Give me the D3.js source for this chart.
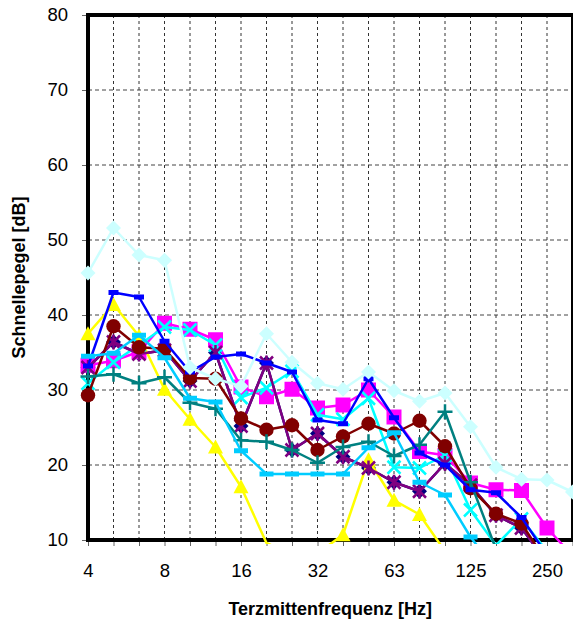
<!DOCTYPE html>
<html><head><meta charset="utf-8">
<script src="https://cdn.jsdelivr.net/npm/d3@7"></script>
<style>body{margin:0;background:#fff}svg{display:block;font-family:"Liberation Sans",Arial,sans-serif}</style>
</head><body>
<svg id="c" width="573" height="625"></svg>
<script>
const categories = ["4","5","6.3","8","10","12.5","16","20","25","31.5","40","50","63","80","100","125","160","200","250","315"];
const xTickLabels = ["4","","","8","","","16","","","32","","","63","","","125","","","250",""];
const yTicks = [10,20,30,40,50,60,70,80];

const navyValues     = [33, 36.4, 34.8, 35.3, 31.2, 35, 25.2, 33.6, 22, 24.2, 21.1, 19.6, 17.7, 16.5, 20.2, 17.3, 13.3, 11.6, 7, 5];
const magentaValues  = [33.3, 33.9, 35.1, 38.9, 38.1, 36.7, 30.4, 29.1, 30.1, 27.6, 28, 30, 26.4, 21.8, 21.3, 17.6, 16.7, 16.6, 11.6, 7.9];
const yellowValues   = [37.5, 41.4, 37.2, 30.1, 26.1, 22.4, 17.1, 9.6, 8, 8.2, 10.7, 20.7, 15.3, 13.4, 8.5, 5, 5, 5, 5, 5];
const cyanValues     = [30.9, 33.7, 36, 38.4, 38, 36, 29, 30.3, 32.5, 26.7, 26.1, 28.9, 19.7, 19.6, 21.3, 14, 9.3, 12.8, 8.5, 5];
const purpleValues   = [33, 36.4, 34.8, 35.3, 31.2, 35, 25.2, 33.6, 22, 24.2, 21.1, 19.6, 17.7, 16.5, 20.2, 17.3, 13.3, 11.6, 7, 5];
const darkRedValues  = [29.3, 38.5, 35.7, 35.5, 31.6, 31.5, 26.2, 24.7, 25.3, 22, 23.8, 25.5, 24.2, 25.9, 22.5, 16.9, 13.5, 12.2, 7, 5];
const tealValues     = [31.8, 32.1, 30.9, 31.7, 28.3, 27.5, 23.3, 23.1, 22, 20.3, 22.4, 23.1, 21.2, 22.7, 27.1, 17.7, 8.8, 5, 5, 5];
const blueValues     = [33.2, 43, 42.4, 36.5, 32.4, 34.4, 34.8, 33.6, 32.4, 26, 25.5, 31.5, 26.3, 21.6, 20, 16.7, 16.3, 13, 8, 5];
const skyValues      = [34.5, 34.9, 37.3, 34.3, 28.9, 28.4, 21.9, 18.8, 18.8, 18.8, 18.8, 22.3, 24.3, 17.7, 16, 10.4, 6, 5, 5, 5];
const lightCyanValues= [45.6, 51.6, 48, 47.3, 33, 31.5, 30.5, 37.5, 33.7, 30.9, 30.1, 32.4, 29.9, 28.5, 29.6, 25.1, 19.7, 18.1, 18, 16.4];

const series = [
  {values: navyValues, color: "#000080", marker: "diamond"},
  {values: magentaValues, color: "#FF00FF", marker: "square"},
  {values: yellowValues, color: "#FFFF00", marker: "triangle"},
  {values: cyanValues, color: "#00FFFF", marker: "x"},
  {values: purpleValues, color: "#800080", marker: "star"},
  {values: darkRedValues, color: "#800000", marker: "circle"},
  {values: tealValues, color: "#008080", marker: "plus"},
  {values: blueValues, color: "#0000FF", marker: "dash"},
  {values: skyValues, color: "#00CCFF", marker: "longdash"},
  {values: lightCyanValues, color: "#CCFFFF", marker: "diamond"}
];

const L = 88, R = 572.5, T = 15, B = 540;
const svg = d3.select("#c");
const x = d3.scalePoint().domain(categories).range([L, R]);
const y = d3.scaleLinear().domain([10, 80]).range([B, T]);

svg.append("defs").append("clipPath").attr("id","clip")
  .append("rect").attr("x", L).attr("y", T).attr("width", R - L + 2).attr("height", B - T + 4);

// grid
const grid = svg.append("g");
grid.selectAll("line.h").data(yTicks.filter(v => v > 10 && v < 80)).join("line")
  .attr("x1", L).attr("x2", R).attr("y1", d => y(d)).attr("y2", d => y(d))
  .attr("stroke", "#444").attr("stroke-width", 1).attr("stroke-dasharray", "4,3");
grid.selectAll("line.v").data(categories.slice(1)).join("line")
  .attr("x1", d => x(d)).attr("x2", d => x(d)).attr("y1", T).attr("y2", B)
  .attr("stroke", "#333").attr("stroke-width", 1).attr("stroke-dasharray", "3,3");

// axes
const yAxis = d3.axisLeft(y).tickValues(yTicks).tickSize(6).tickPadding(14);
const gy = svg.append("g").attr("transform", `translate(${L},0)`).call(yAxis);
gy.select(".domain").remove();
gy.selectAll(".tick line").attr("stroke", "#666");
gy.selectAll("text").attr("font-size", "18.5px").attr("fill", "#000");

const xAxis = d3.axisBottom(x).tickFormat((d, i) => xTickLabels[i]).tickSize(6).tickPadding(18);
const gx = svg.append("g").attr("transform", `translate(0,${B})`).call(xAxis);
gx.select(".domain").remove();
gx.selectAll(".tick line").attr("stroke", "#666");
gx.selectAll("text").attr("font-size", "18.5px").attr("fill", "#000");

// frame
svg.append("line").attr("x1", L).attr("x2", L).attr("y1", T - 2).attr("y2", B + 2).attr("stroke", "#000").attr("stroke-width", 4);
svg.append("line").attr("x1", L - 2).attr("x2", 573).attr("y1", B).attr("y2", B).attr("stroke", "#000").attr("stroke-width", 4);
svg.append("line").attr("x1", L - 2).attr("x2", 573).attr("y1", T).attr("y2", T).attr("stroke", "#000").attr("stroke-width", 4);
svg.append("line").attr("x1", 572).attr("x2", 572).attr("y1", T).attr("y2", B).attr("stroke", "#000").attr("stroke-width", 2);

// series
const line = d3.line().x((d, i) => x(categories[i])).y(d => y(d));
const S = 6.5;
const markerPath = {
  diamond: `M0,${-S-1}L${S+1},0L0,${S+1}L${-S-1},0Z`,
  square: `M-7.5,-7.5H7.5V7.5H-7.5Z`,
  triangle: `M0,${-S-1}L${S+1},${S}L${-S-1},${S}Z`,
  x: `M${-S},${-S}L${S},${S}M${-S},${S}L${S},${-S}`,
  star: `M${-S},${-S}L${S},${S}M${-S},${S}L${S},${-S}M0,${-S-1}V${S+1}`,
  plus: `M${-S-1},0H${S+1}M0,${-S-1}V${S+1}`,
  dash: `M-5,-2.5H5V2.5H-5Z`,
  longdash: `M-7,-2.5H7V2.5H-7Z`
};
const stroked = {x: true, star: true, plus: true};
series.forEach(s => {
  const grp = svg.append("g");
  grp.append("path").datum(s.values).attr("d", line).attr("clip-path", "url(#clip)")
    .attr("fill", "none").attr("stroke", s.color).attr("stroke-width", 2.5).attr("stroke-linejoin", "round");
  s.values.forEach((v, i) => {
    if (v < 10) return;
    const px = x(categories[i]), py = y(v);
    if (s.marker === "circle") {
      grp.append("circle").attr("cx", px).attr("cy", py).attr("r", 7.2).attr("fill", s.color);
    } else {
      const p = grp.append("path").attr("transform", `translate(${px},${py})`).attr("d", markerPath[s.marker]);
      if (stroked[s.marker]) p.attr("fill", "none").attr("stroke", s.color).attr("stroke-width", 2.5);
      else p.attr("fill", s.color);
    }
  });
});

// titles
svg.append("text").attr("x", (L + R) / 2).attr("y", 615).attr("text-anchor", "middle")
  .attr("font-size", "18px").attr("font-weight", "bold").text("Terzmittenfrequenz [Hz]");
svg.append("text").attr("transform", `translate(25,${(T + B) / 2}) rotate(-90)`).attr("text-anchor", "middle")
  .attr("font-size", "18px").attr("font-weight", "bold").text("Schnellepegel [dB]");
</script>
</body></html>
